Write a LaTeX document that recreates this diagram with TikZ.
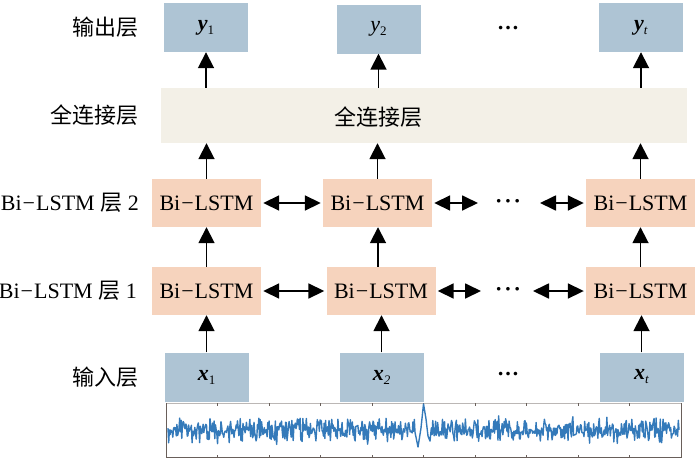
\documentclass[tikz,border=0pt]{standalone}
\usepackage{fontspec}
\setmainfont{Liberation Serif}
\newfontfamily\cjk{Noto Sans CJK SC}
\usetikzlibrary{arrows.meta}
\definecolor{ioblue}{RGB}{174,196,212}
\definecolor{lstmc}{RGB}{246,211,189}
\definecolor{fcbg}{RGB}{243,240,231}
\definecolor{sigc}{RGB}{52,122,186}
\definecolor{axisc}{RGB}{105,95,90}
\newcommand{\mysub}[1]{\raisebox{-4pt}{\fontsize{13}{13}\selectfont #1}}
\newcommand{\bilstm}{Bi\kern1pt−\kern1pt LSTM}
\newcommand{\middots}{\textbf{\textperiodcentered\kern2pt\textperiodcentered\kern2pt\textperiodcentered}}
\begin{document}
\begin{tikzpicture}[x=1pt,y=-1pt,font=\fontsize{22}{26}\selectfont,
  iobox/.style={fill=ioblue,minimum width=84pt,minimum height=49pt,inner sep=0pt},
  lstmbox/.style={fill=lstmc,minimum width=109pt,minimum height=48pt,inner sep=0pt},
  fcbox/.style={fill=fcbg,minimum width=526pt,minimum height=55pt,inner sep=0pt},
  layerlabel/.style={anchor=east,inner sep=0pt},
  upar/.style={line width=1.8pt,-{Triangle[width=16pt,length=16pt]}},
  biar/.style={line width=1.8pt,{Triangle[width=15pt,length=16pt]}-{Triangle[width=15pt,length=16pt]},shorten <=2pt,shorten >=2pt},
  dotsnode/.style={inner sep=0pt}]
\useasboundingbox (0,0) rectangle (700,458);

% left labels
\node[layerlabel] (lo) at (139,27) {\cjk 输出层};
\node[layerlabel] (lf) at (139,115) {\cjk 全连接层};
\node[layerlabel] (l2) at (139,203) {\bilstm\ {\cjk 层}\ 2};
\node[layerlabel] (l1) at (137,291) {\bilstm\ {\cjk 层}\ 1};
\node[layerlabel] (li) at (139,377) {\cjk 输入层};

% output
\node[iobox] (y1) at (206,27.5) {\textbf{\textit{y}}\mysub{1}};
\node[iobox] (y2) at (378.5,29) {\textit{y}\mysub{2}};
\node[iobox] (yt) at (641,27.5) {\textbf{\textit{y}}\mysub{\textit{t}}};
\node[dotsnode] (d0) at (508,28) {\textbf{\ldots}};

% fully connected
\node[fcbox] (fc) at (424,115.5) {};
\node[inner sep=0pt] (fct) at (378,117) {\cjk 全连接层};

% Bi-LSTM layer 2
\node[lstmbox] (a1) at (206.5,203) {\bilstm};
\node[lstmbox] (a2) at (377.5,203) {\bilstm};
\node[lstmbox] (a3) at (640.5,203) {\bilstm};
\node[dotsnode] (d2) at (508,204) {\middots};
\coordinate (c2a) at (480,203);
\coordinate (c2b) at (538,203);

% Bi-LSTM layer 1
\node[lstmbox] (b1) at (206.5,291) {\bilstm};
\node[lstmbox] (b2) at (381,291) {\bilstm};
\node[lstmbox] (b3) at (640.5,291) {\bilstm};
\node[dotsnode] (d1) at (508,292) {\middots};
\coordinate (c1a) at (483,291);
\coordinate (c1b) at (531,291);

% input
\node[iobox] (x1) at (206.5,377) {\textbf{\textit{x}}\mysub{1}};
\node[iobox] (x2) at (381.5,377) {\textbf{\textit{x}}\mysub{\textit{2}}};
\node[iobox] (xt) at (641.5,377) {\textbf{\textit{x}}\mysub{\textit{t}}};
\node[dotsnode] (d3) at (508,374) {\textbf{\ldots}};

% vertical arrows
\draw[upar] (x1.north) -- (x1.north |- b1.south);
\draw[upar] (x2.north) -- (x2.north |- b2.south);
\draw[upar] (xt.north) -- (xt.north |- b3.south);
\draw[upar] (b1.north) -- (b1.north |- a1.south);
\draw[upar] ([xshift=-3pt]b2.north) -- ([xshift=-3pt]b2.north |- a2.south);
\draw[upar] (b3.north) -- (b3.north |- a3.south);
\draw[upar] (a1.north) -- (a1.north |- fc.south);
\draw[upar] (a2.north) -- (a2.north |- fc.south);
\draw[upar] (a3.north) -- (a3.north |- fc.south);
\draw[upar] (y1.south |- fc.north) -- (y1.south);
\draw[upar] (y2.south |- fc.north) -- (y2.south);
\draw[upar] (yt.south |- fc.north) -- (yt.south);

% horizontal double arrows
\draw[biar] (a1.east) -- (a2.west);
\draw[biar] (a2.east) -- (c2a);
\draw[biar] (c2b) -- (a3.west);
\draw[biar] (b1.east) -- (b2.west);
\draw[biar] (b2.east) -- (c1a);
\draw[biar] (c1b) -- (b3.west);

% signal plot
\draw[axisc!45,line width=0.5pt] (166,403) -- (681,403);
\draw[axisc,line width=0.9pt] (166,403) -- (166,457) -- (681,457) -- (681,403);
\foreach \i in {0,...,10} {
  \draw[axisc,line width=0.6pt] (166+51.5*\i,457) -- ++(0,-2.5);
  \draw[axisc,line width=0.6pt] (166+51.5*\i,403) -- ++(0,2.5);
}
\pgfmathsetseed{7}
\draw[sigc,line width=1.4pt,line join=round]
  plot[samples=360,domain=168:415] (\x,{430+7.5*(rand+rand)})
  -- (418,447) -- (421,428) -- (423.5,404) -- (426,419) -- (428,436)
  -- plot[samples=360,domain=430:679] (\x,{430+7.5*(rand+rand)});
\end{tikzpicture}
\end{document}
